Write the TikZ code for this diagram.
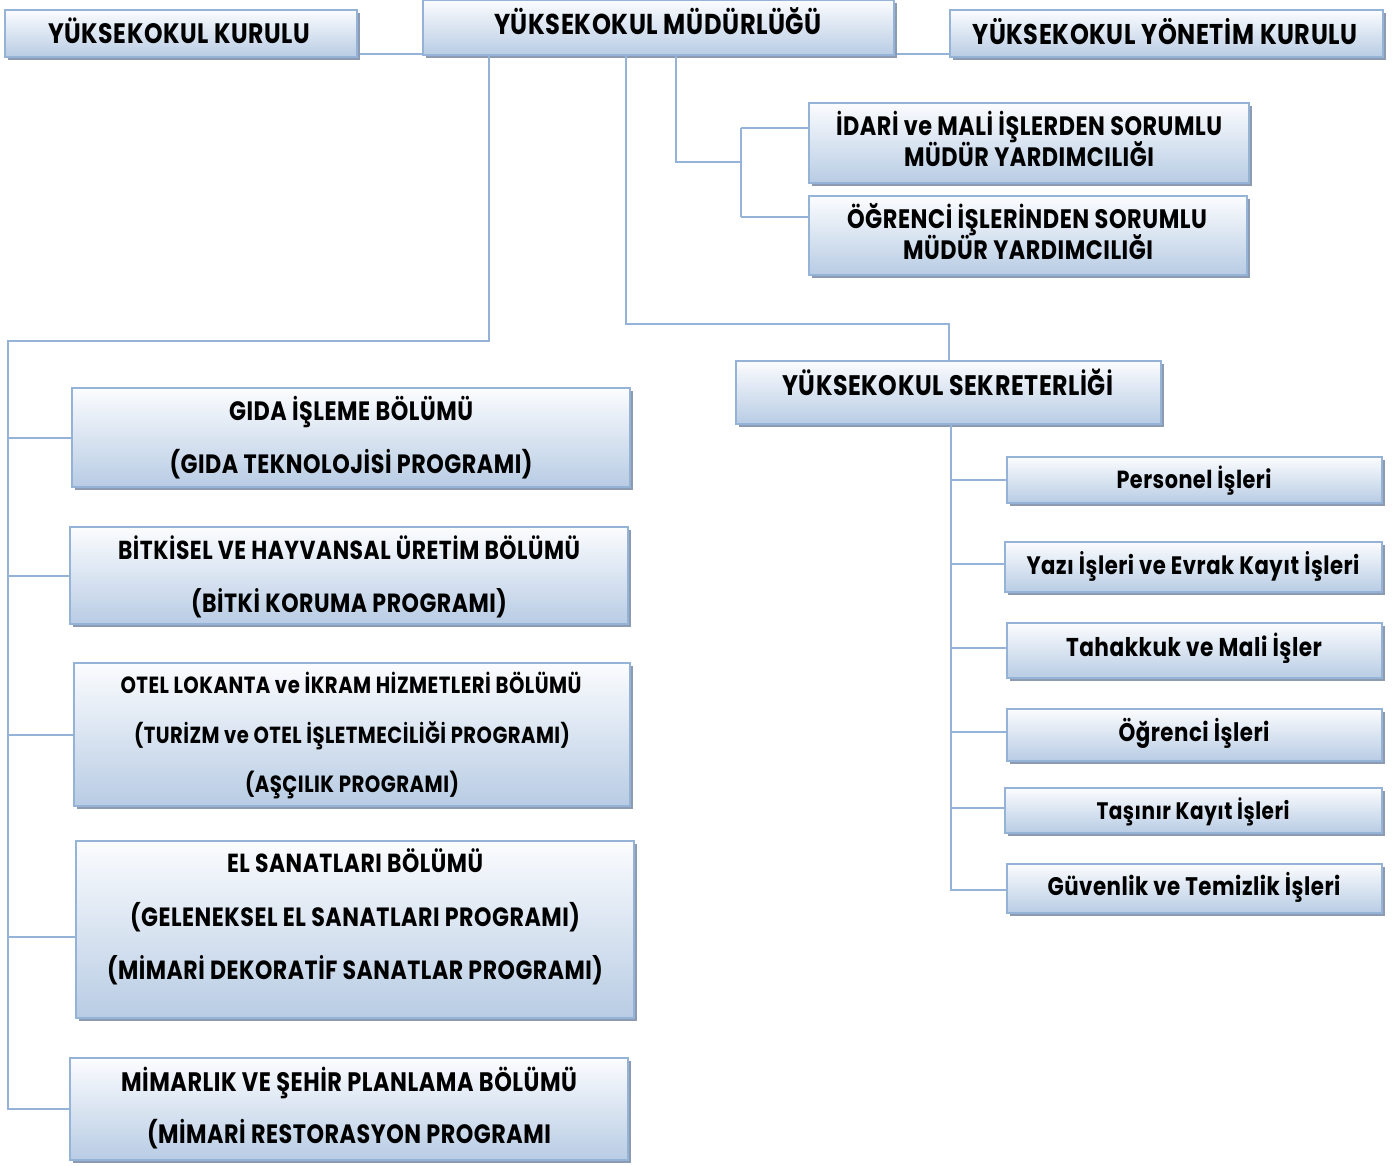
\documentclass[tikz,border=0pt]{standalone}
\usepackage{fontspec}
\setmainfont{Poppins}
\newfontfamily\bx[FakeStretch=0.84,LetterSpace=2]{Poppins}
\usetikzlibrary{shadows,calc}
\definecolor{bordc}{HTML}{95B3D7}
\definecolor{linec}{HTML}{95B3D7}
\definecolor{boxtop}{HTML}{FBFCFE}
\definecolor{boxbot}{HTML}{B8CCE4}
\definecolor{shadc}{HTML}{8C9BB1}
\newlength\natw
\newcommand\fitw[2]{%
  \settowidth\natw{\bx\bfseries\fontsize{10pt}{12pt}\selectfont #2}%
  \pgfmathsetmacro\fsz{10*(#1)*0.5/(\natw)}%
  \bx\bfseries\fontsize{\fsz pt}{\fsz pt}\selectfont\raisebox{-0.35em}{#2}}
\newcommand\bnode[5]{%
  \node[box,minimum width={(#4-#2)*0.5pt},minimum height={(#5-#3)*0.5pt}] (#1) at ({(#2+#4)/2},{(#3+#5)/2}) {};}
\tikzset{
  box/.style={draw=bordc, line width=1pt, top color=boxtop, bottom color=boxbot, inner sep=0pt,
    drop shadow={shadow xshift=1.5pt, shadow yshift=-1.5pt, fill=shadc, opacity=1}},
  conn/.style={draw=linec, line width=1pt},
  lbl/.style={inner sep=0pt, anchor=base, text=black},
}
\begin{document}
\begin{tikzpicture}[x=0.5pt,y=-0.5pt]
\useasboundingbox (0,0) rectangle (1392,1166);
% junction coordinates
\coordinate (jm) at (676,162);
\coordinate (jv) at (741,162);
\coordinate (ja) at (741,128);
\coordinate (jb) at (741,217);
\coordinate (l1) at (489,341);
\coordinate (l2) at (8,341);
\coordinate (r1) at (626,324);
\coordinate (r2) at (949,324);
\coordinate (s0) at (951,890);
\coordinate (k1) at (357,54);
\coordinate (k2) at (950,54);
% connectors (drawn first)
\draw[conn] (k1) -- (k2);
% boxes
\bnode{kurulu}{5}{10}{357}{57}
\bnode{mud}{423}{0}{894}{55}
\bnode{yon}{950}{10}{1383}{57}
\bnode{idari}{809}{103}{1249}{183}
\bnode{ogrmy}{809}{196}{1247}{275}
\bnode{sek}{736}{361}{1161}{424}
\bnode{gida}{72}{388}{630}{487}
\bnode{bitki}{70}{527}{628}{624}
\bnode{otel}{74}{663}{630}{806}
\bnode{el}{76}{841}{634}{1018}
\bnode{mim}{70}{1058}{628}{1160}
\bnode{pers}{1007}{457}{1382}{503}
\bnode{yazi}{1005}{542}{1382}{592}
\bnode{tah}{1007}{623}{1382}{678}
\bnode{ogri}{1007}{709}{1382}{761}
\bnode{tas}{1005}{788}{1382}{833}
\bnode{guv}{1007}{864}{1382}{913}
% connectors
\draw[conn] (mud.south -| jm) -- (jm) -- (jv);
\draw[conn] (ja) -- (jb);
\draw[conn] (ja) -- (idari.west |- ja);
\draw[conn] (jb) -- (ogrmy.west |- jb);
\draw[conn] (mud.south -| l1) -- (l1) -- (l2) -- (l2 |- mim.west) -- (mim.west);
\draw[conn] (l2 |- gida.west) -- (gida.west);
\draw[conn] (l2 |- bitki.west) -- (bitki.west);
\draw[conn] (l2 |- otel.west) -- (otel.west);
\draw[conn] ($(l2 |- el.west)+(0,7)$) -- ($(el.west)+(0,7)$);
\draw[conn] (mud.south -| r1) -- (r1) -- (r2) -- (sek.north -| r2);
\draw[conn] (sek.south -| s0) -- (s0) -- (guv.west |- s0);
\draw[conn] (s0 |- pers.west) -- (pers.west);
\draw[conn] ($(s0 |- yazi.west)+(0,-3)$) -- ($(yazi.west)+(0,-3)$);
\draw[conn] ($(s0 |- tah.west)+(0,-3)$) -- ($(tah.west)+(0,-3)$);
\draw[conn] ($(s0 |- ogri.west)+(0,-3)$) -- ($(ogri.west)+(0,-3)$);
\draw[conn] ($(s0 |- tas.west)+(0,-3)$) -- ($(tas.west)+(0,-3)$);
% labels
\node[lbl] (t1) at (179,34) {\fitw{262}{YÜKSEKOKUL KURULU}};
\node[lbl] (t2) at (658,24) {\fitw{328}{YÜKSEKOKUL MÜDÜRLÜĞÜ}};
\node[lbl] (t3) at (1165,34) {\fitw{385}{YÜKSEKOKUL YÖNETİM KURULU}};
\node[lbl] (t4) at (1029,126) {\fitw{386}{İDARİ ve MALİ İŞLERDEN SORUMLU}};
\node[lbl] (t5) at (1029,157) {\fitw{250}{MÜDÜR YARDIMCILIĞI}};
\node[lbl] (t6) at (1027,219) {\fitw{360}{ÖĞRENCİ İŞLERİNDEN SORUMLU}};
\node[lbl] (t7) at (1028,250) {\fitw{250}{MÜDÜR YARDIMCILIĞI}};
\node[lbl] (t8) at (948,386) {\fitw{331}{YÜKSEKOKUL SEKRETERLİĞİ}};
\node[lbl] (t9) at (351,411) {\fitw{244}{GIDA İŞLEME BÖLÜMÜ}};
\node[lbl] (t10) at (351,464) {\fitw{363}{(GIDA TEKNOLOJİSİ PROGRAMI)}};
\node[lbl] (t11) at (349,550) {\fitw{462}{BİTKİSEL VE HAYVANSAL ÜRETİM BÖLÜMÜ}};
\node[lbl] (t12) at (349,603) {\fitw{316}{(BİTKİ KORUMA PROGRAMI)}};
\node[lbl] (t13) at (351,685) {\fitw{461}{OTEL LOKANTA ve İKRAM HİZMETLERİ BÖLÜMÜ}};
\node[lbl] (t14) at (352,735) {\fitw{436}{(TURİZM ve OTEL İŞLETMECİLİĞİ PROGRAMI)}};
\node[lbl] (t15) at (352,784) {\fitw{214}{(AŞÇILIK PROGRAMI)}};
\node[lbl] (t16) at (355,863) {\fitw{256}{EL SANATLARI BÖLÜMÜ}};
\node[lbl] (t17) at (355,917) {\fitw{450}{(GELENEKSEL EL SANATLARI PROGRAMI)}};
\node[lbl] (t18) at (355,970) {\fitw{496}{(MİMARİ DEKORATİF SANATLAR PROGRAMI)}};
\node[lbl] (t19) at (349,1082) {\fitw{456}{MİMARLIK VE ŞEHİR PLANLAMA BÖLÜMÜ}};
\node[lbl] (t20) at (349,1134) {\fitw{404}{(MİMARİ RESTORASYON PROGRAMI}};
\node[lbl] (t21) at (1194,480) {\fitw{155}{Personel İşleri}};
\node[lbl] (t22) at (1193,566) {\fitw{333}{Yazı İşleri ve Evrak Kayıt İşleri}};
\node[lbl] (t23) at (1194,647) {\fitw{256}{Tahakkuk ve Mali İşler}};
\node[lbl] (t24) at (1194,733) {\fitw{151}{Öğrenci İşleri}};
\node[lbl] (t25) at (1193,811) {\fitw{193}{Taşınır Kayıt İşleri}};
\node[lbl] (t26) at (1194,887) {\fitw{293}{Güvenlik ve Temizlik İşleri}};
\end{tikzpicture}
\end{document}
